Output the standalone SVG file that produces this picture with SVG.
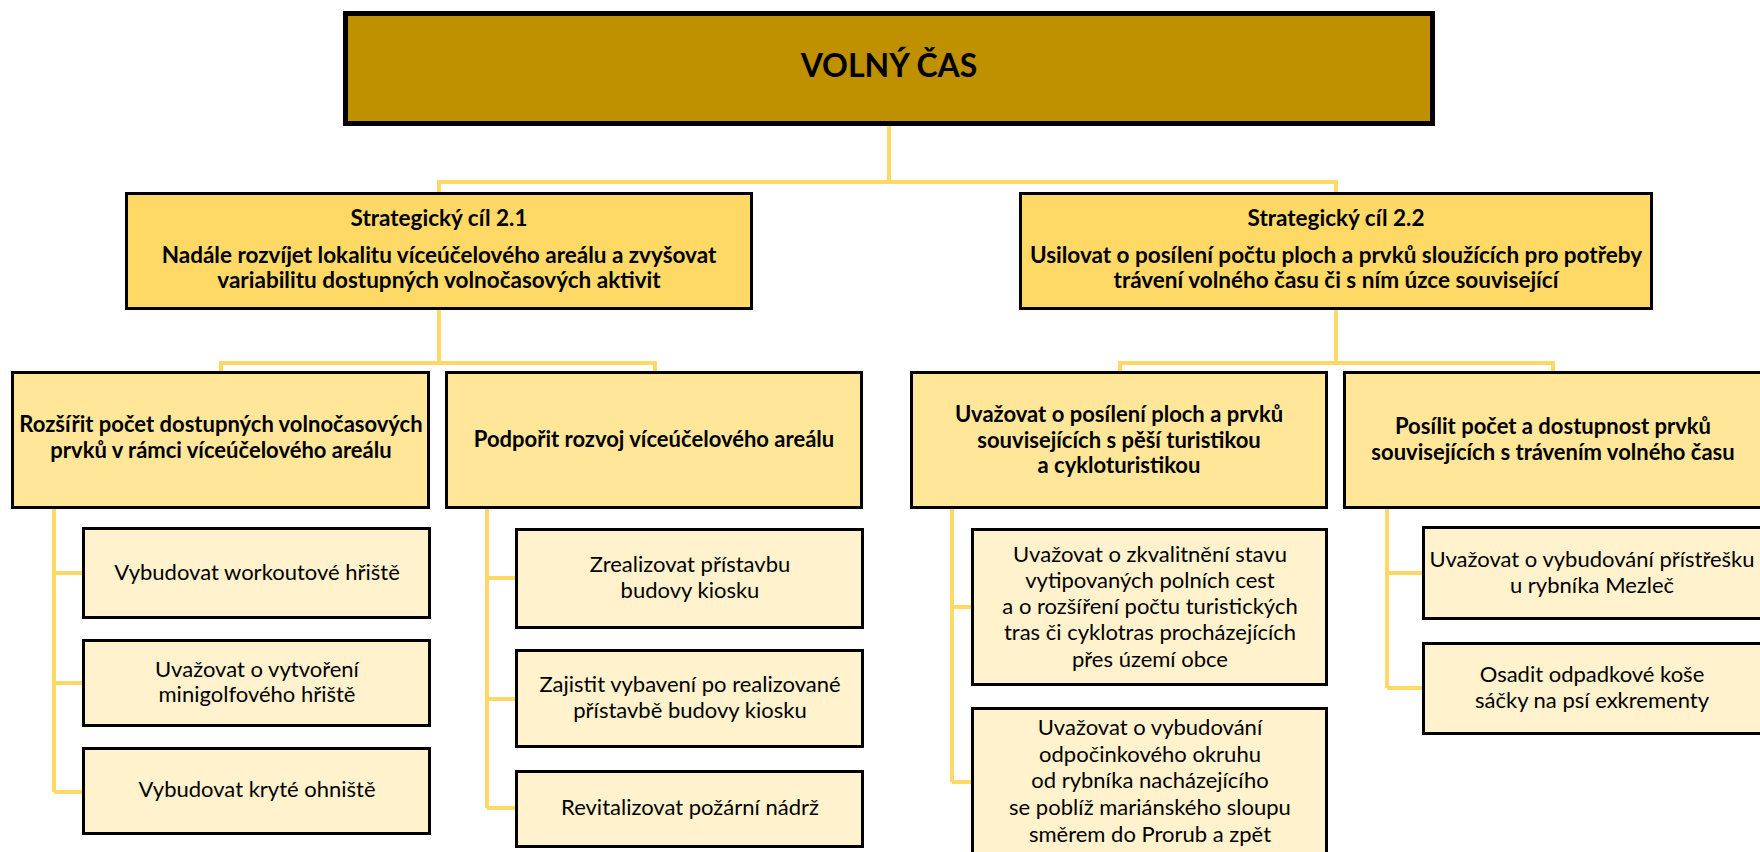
<svg xmlns="http://www.w3.org/2000/svg" width="1760" height="852" viewBox="0 0 1760 852">
<style>
  .conn { fill: none; stroke: #FFD966; stroke-width: 4; }
  .top { fill: #BF9000; stroke: #000; stroke-width: 5; }
  .l2 { fill: #FFD966; stroke: #000; stroke-width: 3; }
  .l3 { fill: #FFE699; stroke: #000; stroke-width: 3; }
  .l4 { fill: #FFF2CC; stroke: #000; stroke-width: 3; }
  text { font-family: Lato, "Liberation Sans", sans-serif; fill: #000; text-anchor: middle; }
  .tt { font-size: 32px; font-weight: bold; }
  .b2 { font-size: 22.5px; font-weight: bold; }
  .b { font-size: 22px; font-weight: bold; }
  .r { font-size: 22px; }
</style>
<rect width="1760" height="852" fill="#fff"/>
<g id="connectors">
  <path class="conn" d="M889 126 V182 M439 192 V182 H1336 V192"/>
  <path class="conn" d="M439 310 V363 M221 371 V363 H655 V371"/>
  <path class="conn" d="M1336 310 V363 M1120 371 V363 H1553 V371"/>
  <path class="conn" d="M54 509 V792 M54 573 H82 M54 683 H82 M54 792 H82"/>
  <path class="conn" d="M487 509 V808 M487 578 H515 M487 699 H515 M487 808 H515"/>
  <path class="conn" d="M952 509 V782 M952 607 H971 M952 782 H971"/>
  <path class="conn" d="M1387 509 V688 M1387 573 H1422 M1387 688 H1422"/>
</g>
<g id="root">
  <rect class="top" x="345.5" y="13.5" width="1087" height="110"/>
  <text class="tt" x="889" y="77">VOLNÝ ČAS</text>
</g>
<g id="sc21">
  <rect class="l2" x="126.5" y="193.5" width="625" height="115"/>
  <text class="b2" x="439" y="226">Strategický cíl 2.1</text>
  <text class="b2" x="439" y="263">Nadále rozvíjet lokalitu víceúčelového areálu a zvyšovat</text>
  <text class="b2" x="439" y="288">variabilitu dostupných volnočasových aktivit</text>
</g>
<g id="sc22">
  <rect class="l2" x="1020.5" y="193.5" width="631" height="115"/>
  <text class="b2" x="1336" y="226">Strategický cíl 2.2</text>
  <text class="b2" x="1336" y="263">Usilovat o posílení počtu ploch a prvků sloužících pro potřeby</text>
  <text class="b2" x="1336" y="288">trávení volného času či s ním úzce související</text>
</g>
<g id="nA">
  <rect class="l3" x="12.5" y="372.5" width="416" height="135"/>
  <text class="b" x="221" y="432">Rozšířit počet dostupných volnočasových</text>
  <text class="b" x="221" y="458">prvků v rámci víceúčelového areálu</text>
</g>
<g id="nB">
  <rect class="l3" x="446.5" y="372.5" width="415" height="135"/>
  <text class="b" x="654" y="447">Podpořit rozvoj víceúčelového areálu</text>
</g>
<g id="nC">
  <rect class="l3" x="911.5" y="372.5" width="415" height="135"/>
  <text class="b" x="1119" y="422">Uvažovat o posílení ploch a prvků</text>
  <text class="b" x="1119" y="448">souvisejících s pěší turistikou</text>
  <text class="b" x="1119" y="473">a cykloturistikou</text>
</g>
<g id="nD">
  <rect class="l3" x="1344.5" y="372.5" width="417" height="135"/>
  <text class="b" x="1553" y="434">Posílit počet a dostupnost prvků</text>
  <text class="b" x="1553" y="460">souvisejících s trávením volného času</text>
</g>
<g id="nA1">
  <rect class="l4" x="83.5" y="528.5" width="346" height="89"/>
  <text class="r" x="257" y="580">Vybudovat workoutové hřiště</text>
</g>
<g id="nA2">
  <rect class="l4" x="83.5" y="640.5" width="346" height="85"/>
  <text class="r" x="257" y="677">Uvažovat o vytvoření</text>
  <text class="r" x="257" y="702">minigolfového hřiště</text>
</g>
<g id="nA3">
  <rect class="l4" x="83.5" y="748.5" width="346" height="85"/>
  <text class="r" x="257" y="797">Vybudovat kryté ohniště</text>
</g>
<g id="nB1">
  <rect class="l4" x="516.5" y="529.5" width="346" height="98"/>
  <text class="r" x="690" y="572">Zrealizovat přístavbu</text>
  <text class="r" x="690" y="598">budovy kiosku</text>
</g>
<g id="nB2">
  <rect class="l4" x="516.5" y="650.5" width="346" height="96"/>
  <text class="r" x="690" y="692">Zajistit vybavení po realizované</text>
  <text class="r" x="690" y="718">přístavbě budovy kiosku</text>
</g>
<g id="nB3">
  <rect class="l4" x="516.5" y="771.5" width="346" height="75"/>
  <text class="r" x="690" y="815">Revitalizovat požární nádrž</text>
</g>
<g id="nC1">
  <rect class="l4" x="972.5" y="529.5" width="354" height="155"/>
  <text class="r" x="1150" y="562">Uvažovat o zkvalitnění stavu</text>
  <text class="r" x="1150" y="588">vytipovaných polních cest</text>
  <text class="r" x="1150" y="614">a o rozšíření počtu turistických</text>
  <text class="r" x="1150" y="640">tras či cyklotras procházejících</text>
  <text class="r" x="1150" y="667">přes území obce</text>
</g>
<g id="nC2">
  <rect class="l4" x="972.5" y="708.5" width="354" height="160"/>
  <text class="r" x="1150" y="735">Uvažovat o vybudování</text>
  <text class="r" x="1150" y="762">odpočinkového okruhu</text>
  <text class="r" x="1150" y="788">od rybníka nacházejícího</text>
  <text class="r" x="1150" y="815">se poblíž mariánského sloupu</text>
  <text class="r" x="1150" y="842">směrem do Prorub a zpět</text>
</g>
<g id="nD1">
  <rect class="l4" x="1423.5" y="527.5" width="338" height="91"/>
  <text class="r" x="1592" y="567">Uvažovat o vybudování přístřešku</text>
  <text class="r" x="1592" y="593">u rybníka Mezleč</text>
</g>
<g id="nD2">
  <rect class="l4" x="1423.5" y="643.5" width="338" height="90"/>
  <text class="r" x="1592" y="682">Osadit odpadkové koše</text>
  <text class="r" x="1592" y="708">sáčky na psí exkrementy</text>
</g>
</svg>
